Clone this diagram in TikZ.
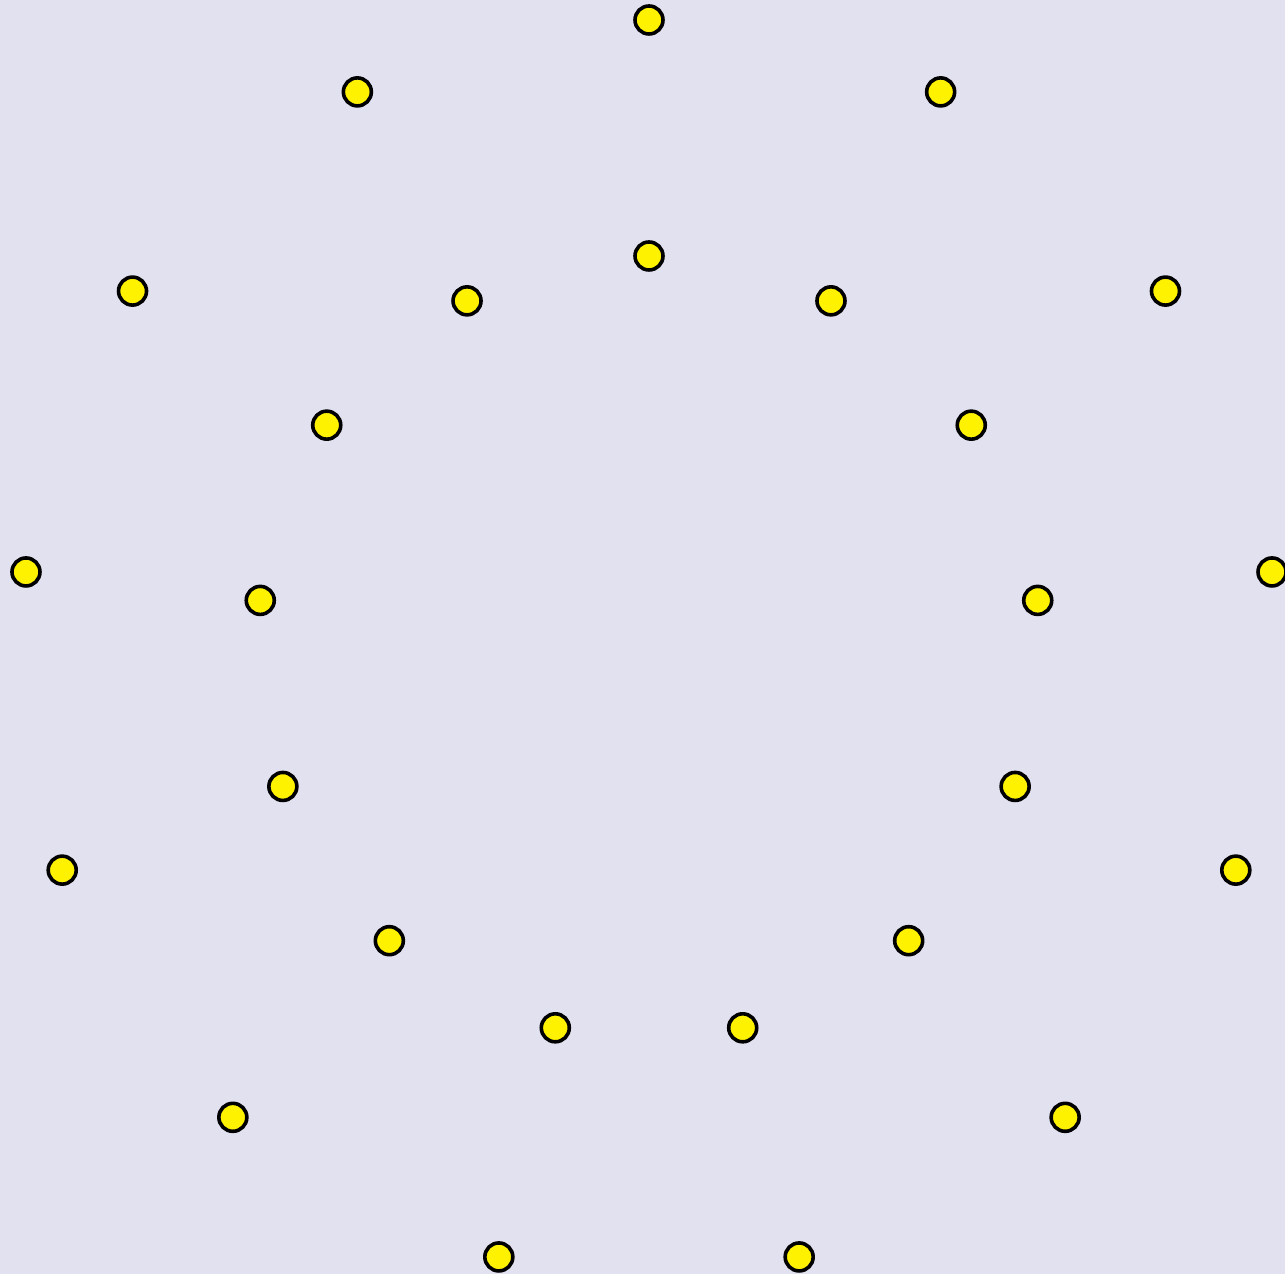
\documentclass[tikz,border=0pt]{standalone}
\usepackage{tikz}
\usetikzlibrary{calc}
\definecolor{bgcol}{RGB}{225,225,240}
\tikzset{
  dot/.style={circle, draw=black, fill=yellow, line width=1.8pt, minimum size=14pt, inner sep=0pt}
}

\begin{document}
\begin{tikzpicture}[x=0.5pt,y=0.5pt]
		\fill[bgcol] (0,0) rectangle (1285,1274);
		\useasboundingbox (0,0) rectangle (1285,1274);
		\coordinate (c) at (649,626.4);
		\foreach \k in {0,...,12}{
			\node[dot] (o\k) at ($(c)+({90+\k*360/13}:627.6)$) {};
			\node[dot] (i\k) at ($(c)+({90+\k*360/13}:391.6)$) {};
		}
	\end{tikzpicture}
\end{document}
